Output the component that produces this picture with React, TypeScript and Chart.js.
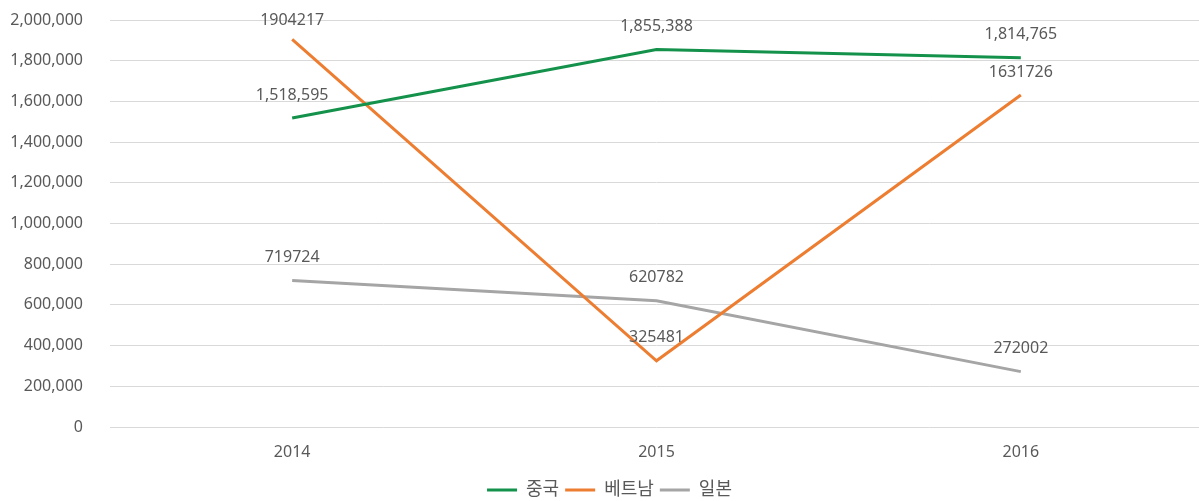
import React, { useEffect, useRef } from "react";
import { Chart, registerables } from "chart.js";

Chart.register(...registerables);

const categories = ["2014", "2015", "2016"];
const seriesNames = ["중국", "베트남", "일본"];
const chinaValues = [1518595, 1855388, 1814765];
const vietnamValues = [1904217, 325481, 1631726];
const japanValues = [719724, 620782, 272002];
const seriesColors = ["#14924B", "#ED7D31", "#A5A5A5"];
const labelWithCommas = [true, false, false];
const yTickMin = 0;
const yTickMax = 2000000;
const yTickStep = 200000;

const FONT = "'Noto Sans', 'Noto Sans CJK KR', sans-serif";
const TEXT = "#595959";

const dataLabelPlugin = {
  id: "dataLabels",
  afterDatasetsDraw(chart: any) {
    const ctx = chart.ctx;
    ctx.save();
    ctx.font = `16px ${FONT}`;
    ctx.fillStyle = TEXT;
    ctx.textAlign = "center";
    ctx.textBaseline = "middle";
    chart.data.datasets.forEach((ds: any, i: number) => {
      const meta = chart.getDatasetMeta(i);
      meta.data.forEach((pt: any, j: number) => {
        const v = ds.data[j] as number;
        const txt = labelWithCommas[i] ? v.toLocaleString("en-US") : String(v);
        ctx.fillText(txt, pt.x, Math.max(pt.y - 23, 20));
      });
    });
    ctx.restore();
  },
};

const legendShiftPlugin = {
  id: "legendShift",
  afterLayout(chart: any) {
    const lg = chart.legend;
    if (lg) {
      lg.left += 8;
      lg.right += 8;
    }
  },
};

export default function App() {
  const ref = useRef<HTMLCanvasElement | null>(null);
  useEffect(() => {
    document.body.style.margin = "0";
    const canvas = ref.current!;
    const allValues = [chinaValues, vietnamValues, japanValues];
    const chart = new Chart(canvas, {
      type: "line",
      data: {
        labels: categories,
        datasets: allValues.map((vals, i) => ({
          label: seriesNames[i],
          data: vals,
          borderColor: seriesColors[i],
          backgroundColor: seriesColors[i],
          borderWidth: 3,
          pointRadius: 0,
          pointHoverRadius: 0,
          pointStyle: "line",
          tension: 0,
          fill: false,
        })),
      },
      options: {
        responsive: false,
        animation: false,
        layout: { padding: { top: 20, left: 0, right: 0, bottom: -8 } },
        plugins: {
          tooltip: { enabled: false },
          legend: {
            position: "bottom",
            labels: {
              usePointStyle: true,
              pointStyleWidth: 30,
              color: TEXT,
              font: { family: FONT, size: 18 },
              padding: 6,
            },
          },
        },
        scales: {
          x: {
            offset: true,
            grid: { display: false, drawTicks: false },
            border: { display: false },
            ticks: { color: TEXT, font: { family: FONT, size: 16 }, padding: 16 },
            afterFit: (s: any) => {
              s.height = 48;
            },
          },
          y: {
            min: yTickMin,
            max: yTickMax,
            grid: { color: "#D9D9D9", drawTicks: false, lineWidth: 1 },
            border: { display: false },
            ticks: {
              stepSize: yTickStep,
              color: TEXT,
              font: { family: FONT, size: 16 },
              padding: 27,
              callback: (v: any) => Number(v).toLocaleString("en-US"),
            },
            afterFit: (s: any) => {
              s.width = 110;
              s.paddingTop = 0;
              s.paddingBottom = 0;
            },
          },
        },
      },
      plugins: [dataLabelPlugin, legendShiftPlugin],
    });
    return () => chart.destroy();
  }, []);
  return (
    <div style={{ position: "fixed", left: 0, top: 0, width: 1199, height: 501, overflow: "hidden", background: "#fff" }}>
      <canvas ref={ref} width={1203} height={501} style={{ width: 1203, height: 501, display: "block" }} />
    </div>
  );
}
